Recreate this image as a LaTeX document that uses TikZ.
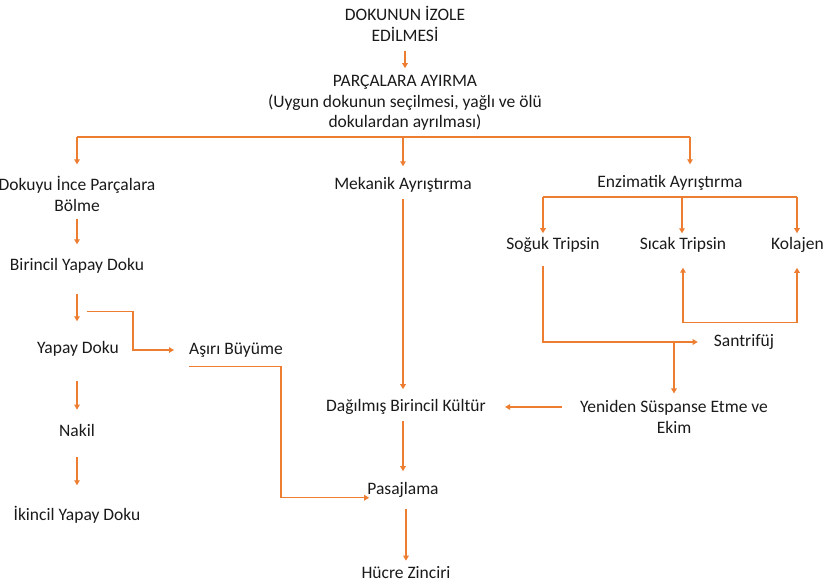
\documentclass[tikz,border=0pt]{standalone}
\usepackage{fontspec}
\setmainfont{Carlito}
\usepackage{xcolor}
\usetikzlibrary{arrows.meta,positioning,calc}
\definecolor{orng}{HTML}{ED7D31}
\definecolor{txtc}{HTML}{1A1A1A}
\begin{document}
\begin{tikzpicture}[x=1pt,y=-1pt,
  font=\fontsize{17.5}{20.5}\selectfont,
  lbl/.style={inner sep=0pt,align=center,text=txtc},
  ln/.style={draw=orng,line width=1.2pt},
  arr/.style={ln,-{Triangle[length=5pt,width=5.5pt]}},
  >={Triangle[length=5pt,width=5.5pt]}]
\useasboundingbox (0,0) rectangle (824,584);
% top
\node[lbl] (izole) at (405,24) {DOKUNUN İZOLE\\EDİLMESİ};
\node[lbl] (parca) at (405,103) {PARÇALARA AYIRMA\\(Uygun dokunun seçilmesi, yağlı ve ölü\\dokulardan ayrılması)};
% left column
\node[lbl] (dokuyu) at (77,194) {Dokuyu İnce Parçalara\\Bölme};
\node[lbl] (birincil) at (77,266) {Birincil Yapay Doku};
\node[lbl] (yapay) at (78,349) {Yapay Doku};
\node[lbl] (asiri) at (236,350) {Aşırı Büyüme};
\node[lbl] (nakil) at (77,430) {Nakil};
\node[lbl] (ikincil) at (77,515) {İkincil Yapay Doku};
% middle column
\node[lbl] (mekanik) at (403,185) {Mekanik Ayrıştırma};
\node[lbl] (dagil) at (406,407) {Dağılmış Birincil Kültür};
\node[lbl] (pasaj) at (403,490) {Pasajlama};
\node[lbl] (hucre) at (406,573) {Hücre Zinciri};
% right column
\node[lbl] (enzim) at (670,183) {Enzimatik Ayrıştırma};
\node[lbl] (soguk) at (553,245) {Soğuk Tripsin};
\node[lbl] (sicak) at (683,245) {Sıcak Tripsin};
\node[lbl,anchor=west] (kolajen) at (771,245) {Kolajen};
\node[lbl] (santri) at (744,342) {Santrifüj};
\node[lbl] (yeniden) at (674,417) {Yeniden Süspanse Etme ve\\Ekim};
% coordinates
\coordinate (busL) at (77,137);
\coordinate (busR) at (690,137);
\coordinate (ebusL) at (543,197);
\coordinate (ebus) at (682,197);
\coordinate (ebusR) at (797,197);
\coordinate (brk) at ([xshift=10pt,yshift=-38pt]birincil.south);
% connectors
\draw[arr,shorten <=9pt,shorten >=7pt] (izole) -- (parca);
\draw[ln] (busL) -- (busR);
\draw[arr,shorten >=12pt] (busL) -- (dokuyu);
\draw[arr,shorten >=11pt] (busL -| mekanik) -- (mekanik);
\draw[arr,shorten >=11pt] (busR) -- (busR |- enzim.north);
\draw[arr,shorten <=7pt,shorten >=14pt] (dokuyu) -- (birincil);
\draw[arr,shorten <=20pt,shorten >=20pt] (birincil) -- (birincil |- yapay.north);
\draw[arr,shorten >=15pt] (brk) -- ++(46,0) |- (asiri.west);
\draw[arr,shorten <=24pt,shorten >=14pt] (yapay.south -| nakil) -- (nakil);
\draw[arr,shorten <=21pt,shorten >=21pt] (nakil) -- (ikincil);
\draw[arr,shorten >=-2pt] ([yshift=-9pt]asiri.south west) -- ++(92,0) |- (pasaj.south west);
\draw[arr,shorten <=6pt,shorten >=10pt] (mekanik) -- (mekanik |- dagil.north);
\draw[arr,shorten <=6pt,shorten >=11pt] (dagil.south -| pasaj) -- (pasaj);
\draw[arr,shorten <=11pt,shorten >=6pt] (pasaj.south -| hucre) -- (hucre);
% enzimatik branches
\draw[ln] (ebusL) -- (ebusR);
\draw[arr,shorten >=4pt] (ebusL) -- (ebusL |- soguk.north);
\draw[arr,shorten >=4pt] (ebus) -- (ebus |- sicak.north);
\draw[arr,shorten >=4pt] (ebusR) -- (ebusR |- kolajen.north);
\draw[ln,<->,shorten <=15pt,shorten >=15pt] (sicak.south) -- ++(0,70) -| (ebusR |- kolajen.south);
\draw[arr,shorten <=13pt,shorten >=16pt] (ebusL |- soguk.south) |- (santri.west);
\draw[arr,shorten >=7pt] (yeniden.north |- santri.west) -- (yeniden.north);
\draw[arr,shorten <=18pt,shorten >=19pt] (dagil.east -| yeniden.west) -- (dagil.east);
\end{tikzpicture}
\end{document}
